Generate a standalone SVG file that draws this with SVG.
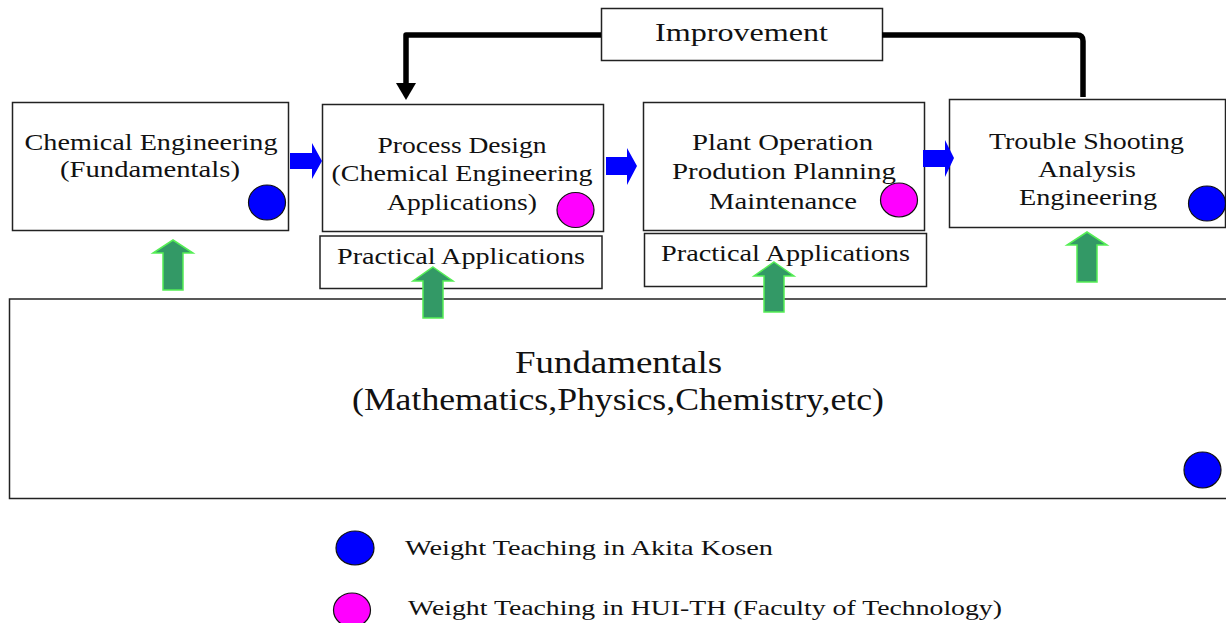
<svg xmlns="http://www.w3.org/2000/svg" width="1226" height="623" viewBox="0 0 1226 623">
  <style>
    .box { fill: #ffffff; stroke: #222222; stroke-width: 1.5; }
    .t { font-family: "Liberation Serif", "DejaVu Serif", serif; fill: #111111; text-anchor: middle; }
    .t22 { font-size: 24px; }
    .big { font-size: 32px; }
    .leg { font-family: "Liberation Serif", "DejaVu Serif", serif; fill: #111111; font-size: 22px; }
    .blue { fill: #0000ff; stroke: #111111; stroke-width: 1.2; }
    .pink { fill: #ff00ff; stroke: #111111; stroke-width: 1.2; }
    .flow { fill: #0000ff; stroke: none; }
    .up { fill: #339966; stroke: #55ee55; stroke-width: 1.5; }
    .loop { fill: none; stroke: #000000; stroke-width: 5.5; stroke-linejoin: round; }
  </style>

  <!-- top row: learning stages -->
  <g id="chem-eng">
    <rect class="box" x="12.5" y="102.5" width="276" height="128"/>
    <text class="t t22" x="151" y="149.5" textLength="253" lengthAdjust="spacingAndGlyphs">Chemical Engineering</text>
    <text class="t t22" x="150" y="177" textLength="180" lengthAdjust="spacingAndGlyphs">(Fundamentals)</text>
    <ellipse class="blue" cx="267" cy="202.5" rx="18.5" ry="17.5"/>
  </g>

  <g id="process-design">
    <rect class="box" x="322.5" y="104.5" width="281" height="127"/>
    <text class="t t22" x="462" y="152.5" textLength="169" lengthAdjust="spacingAndGlyphs">Process Design</text>
    <text class="t t22" x="462" y="181" textLength="261" lengthAdjust="spacingAndGlyphs">(Chemical Engineering</text>
    <text class="t t22" x="462" y="209.5" textLength="150" lengthAdjust="spacingAndGlyphs">Applications)</text>
    <ellipse class="pink" cx="575.5" cy="210" rx="18.5" ry="17.5"/>
  </g>

  <g id="practical-1">
    <rect class="box" x="320" y="236" width="282" height="52.5"/>
    <text class="t t22" x="461" y="263.5" textLength="248" lengthAdjust="spacingAndGlyphs">Practical Applications</text>
  </g>

  <g id="plant-operation">
    <rect class="box" x="643.5" y="102.5" width="281" height="128"/>
    <text class="t t22" x="782.5" y="150" textLength="181" lengthAdjust="spacingAndGlyphs">Plant Operation</text>
    <text class="t t22" x="784" y="178.5" textLength="224" lengthAdjust="spacingAndGlyphs">Prodution Planning</text>
    <text class="t t22" x="783" y="208.5" textLength="148" lengthAdjust="spacingAndGlyphs">Maintenance</text>
    <ellipse class="pink" cx="899" cy="200" rx="18.5" ry="17"/>
  </g>

  <g id="practical-2">
    <rect class="box" x="644.5" y="233.5" width="282" height="53"/>
    <text class="t t22" x="785.5" y="261" textLength="249" lengthAdjust="spacingAndGlyphs">Practical Applications</text>
  </g>

  <g id="trouble-shooting">
    <rect class="box" x="949.5" y="99.5" width="276" height="128"/>
    <text class="t t22" x="1086.5" y="148.5" textLength="195" lengthAdjust="spacingAndGlyphs">Trouble Shooting</text>
    <text class="t t22" x="1087" y="176.5" textLength="98" lengthAdjust="spacingAndGlyphs">Analysis</text>
    <text class="t t22" x="1088" y="205" textLength="138" lengthAdjust="spacingAndGlyphs">Engineering</text>
    <ellipse class="blue" cx="1207" cy="203.5" rx="18.5" ry="17.5"/>
  </g>

  <g id="improvement">
    <rect class="box" x="601.5" y="8.5" width="281" height="52"/>
    <text class="t" style="font-size:25px" x="741.5" y="40.5" textLength="173" lengthAdjust="spacingAndGlyphs">Improvement</text>
  </g>

  <!-- base layer -->
  <g id="fundamentals">
    <rect class="box" x="9.5" y="299" width="1230" height="199.5"/>
    <text class="t big" x="618.5" y="373" textLength="207" lengthAdjust="spacingAndGlyphs">Fundamentals</text>
    <text class="t big" x="618" y="410" textLength="532" lengthAdjust="spacingAndGlyphs">(Mathematics,Physics,Chemistry,etc)</text>
    <ellipse class="blue" cx="1202.5" cy="470" rx="18.5" ry="18"/>
  </g>

  <!-- legend -->
  <g id="legend-akita">
    <ellipse class="blue" cx="355" cy="548" rx="19" ry="17"/>
    <text class="leg" x="405" y="554.5" textLength="368" lengthAdjust="spacingAndGlyphs">Weight Teaching in Akita Kosen</text>
  </g>
  <g id="legend-hui">
    <ellipse class="pink" cx="352" cy="610" rx="18.5" ry="17"/>
    <text class="leg" x="408" y="615" textLength="594" lengthAdjust="spacingAndGlyphs">Weight Teaching in HUI-TH (Faculty of Technology)</text>
  </g>

  <!-- connectors -->
  <g id="connectors">
    <!-- stage-to-stage flow arrows -->
    <polygon class="flow" points="290,153 312,153 312,143 322,161 312,179 312,169 290,169"/>
    <polygon class="flow" points="606,157 627,157 627,148 637,166 627,185 627,175 606,175"/>
    <polygon class="flow" points="923,150 945,150 945,140 954,158 945,177 945,167 923,167"/>

    <!-- support arrows from the fundamentals -->
    <polygon class="up" points="173,240 193,253 183,253 183,290 163,290 163,253 153,253"/>
    <polygon class="up" points="433,267 453,281 443,281 443,318 423,318 423,281 413,281"/>
    <polygon class="up" points="774,262 794,276 784,276 784,312 764,312 764,276 754,276"/>
    <polygon class="up" points="1087,232 1107,245 1097,245 1097,282 1077,282 1077,245 1067,245"/>

    <!-- improvement feedback loop -->
    <path class="loop" d="M601,35 H406 V86"/>
    <polygon fill="#000000" points="396,83 416,83 406,100"/>
    <path class="loop" d="M882,35 H1077 Q1083,35 1083,41 V97"/>
  </g>
</svg>
